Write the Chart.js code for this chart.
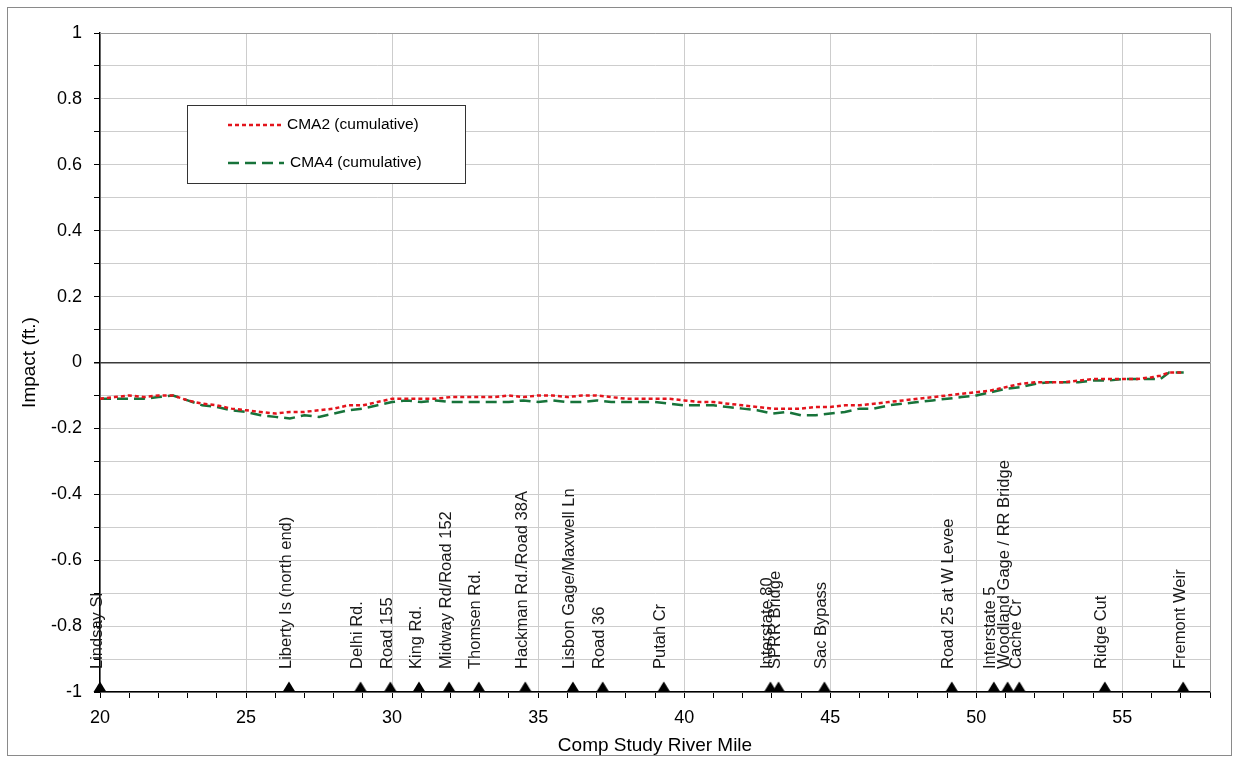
<!DOCTYPE html>
<html>
<head>
<meta charset="utf-8">
<script src="https://cdn.jsdelivr.net/npm/chart.js@4.4.1/dist/chart.umd.min.js"></script>
<style>
  html, body { margin: 0; padding: 0; background: #fff; }
  #wrap { position: relative; width: 1241px; height: 761px; }
  #frame { position: absolute; left: 7px; top: 7px; width: 1225px; height: 749px; border: 1px solid #8a8a8a; box-sizing: border-box; pointer-events: none; }
  canvas { position: absolute; left: 0; top: 0; }
</style>
</head>
<body>
<div id="wrap">
  <canvas id="impactChart" width="1241" height="761"></canvas>
  <div id="frame"></div>
</div>
<script>
// river mile of each cross-section
const riverMile = [
  20.0, 20.5, 21.0, 21.5, 22.0, 22.5, 23.0, 23.5, 24.0, 24.5,
  25.0, 25.5, 26.0, 26.5, 27.0, 27.5, 28.0, 28.5, 29.0, 29.5,
  30.0, 30.5, 31.0, 31.5, 32.0, 32.5, 33.0, 33.5, 34.0, 34.5,
  35.0, 35.5, 36.0, 36.5, 37.0, 37.5, 38.0, 38.5, 39.0, 39.5,
  40.0, 40.5, 41.0, 41.5, 42.0, 42.5, 43.0, 43.5, 44.0, 44.5,
  45.0, 45.5, 46.0, 46.5, 47.0, 47.5, 48.0, 48.5, 49.0, 49.5,
  50.0, 50.5, 51.0, 51.5, 52.0, 52.5, 53.0, 53.5, 54.0, 54.5,
  55.0, 55.5, 56.0, 56.3, 56.6, 57.1
];

const cma2 = [
  -0.11, -0.105, -0.10, -0.105, -0.10, -0.10, -0.115, -0.125, -0.13, -0.14,
  -0.145, -0.15, -0.155, -0.15, -0.15, -0.145, -0.14, -0.13, -0.13, -0.12,
  -0.11, -0.11, -0.11, -0.11, -0.105, -0.105, -0.105, -0.105, -0.10, -0.105,
  -0.10, -0.10, -0.105, -0.10, -0.10, -0.105, -0.11, -0.11, -0.11, -0.11,
  -0.115, -0.12, -0.12, -0.125, -0.13, -0.135, -0.14, -0.14, -0.14, -0.135,
  -0.135, -0.13, -0.13, -0.125, -0.12, -0.115, -0.11, -0.105, -0.10, -0.095,
  -0.09, -0.085, -0.075, -0.065, -0.06, -0.06, -0.06, -0.055, -0.05, -0.05,
  -0.05, -0.05, -0.045, -0.04, -0.03, -0.03
];

const cma4 = [
  -0.11, -0.11, -0.11, -0.11, -0.105, -0.10, -0.115, -0.13, -0.135, -0.145,
  -0.15, -0.16, -0.165, -0.17, -0.16, -0.165, -0.155, -0.145, -0.14, -0.13,
  -0.12, -0.115, -0.12, -0.115, -0.12, -0.12, -0.12, -0.12, -0.12, -0.115,
  -0.12, -0.115, -0.12, -0.12, -0.115, -0.12, -0.12, -0.12, -0.12, -0.125,
  -0.13, -0.13, -0.13, -0.135, -0.14, -0.145, -0.155, -0.15, -0.16, -0.16,
  -0.155, -0.15, -0.14, -0.14, -0.13, -0.125, -0.12, -0.115, -0.11, -0.105,
  -0.10, -0.09, -0.08, -0.075, -0.065, -0.06, -0.06, -0.06, -0.055, -0.055,
  -0.05, -0.05, -0.05, -0.05, -0.03, -0.03
];

// landmarks shown as triangles along the bottom axis
const landmarkMile = [
  20.0, 26.47, 28.92, 29.94, 30.92, 31.95, 32.97, 34.56, 36.19, 37.21,
  39.3, 42.95, 43.23, 44.8, 49.16, 50.6, 51.07, 51.47, 54.4, 57.08
];
const landmarkName = [
  "Lindsay Sl", "Liberty Is (north end)", "Delhi Rd.", "Road 155", "King Rd.",
  "Midway Rd/Road 152", "Thomsen Rd.", "Hackman Rd./Road 38A", "Lisbon Gage/Maxwell Ln", "Road 36",
  "Putah Cr", "Interstate 80", "SPRR Bridge", "Sac Bypass", "Road 25 at W Levee",
  "Interstate 5", "Woodland Gage / RR Bridge", "Cache Cr", "Ridge Cut", "Fremont Weir"
];

const seriesNames = ["CMA2 (cumulative)", "CMA4 (cumulative)"];

const FONT = "'Liberation Sans', Arial, sans-serif";
Chart.defaults.font.family = FONT;
Chart.defaults.color = "#000";

// triangle sitting on top of the point (image is centred on the point)
function makeTriangle() {
  const c = document.createElement("canvas");
  c.width = 14;
  c.height = 22;
  const g = c.getContext("2d");
  g.fillStyle = "#000";
  g.beginPath();
  g.moveTo(7, 0.5);
  g.lineTo(13.5, 11);
  g.lineTo(0.5, 11);
  g.closePath();
  g.fill();
  return c;
}

const redStyle = { color: "#e3141c", dash: [4, 3], width: 2.5 };
const greenStyle = { color: "#17733a", dash: [11, 6], width: 2.5 };

const landmarkLabels = {
  id: "landmarkLabels",
  afterDatasetsDraw(chart) {
    const ctx = chart.ctx;
    const xs = chart.scales.x;
    const ys = chart.scales.y;
    ctx.save();
    ctx.font = "16.5px " + FONT;
    ctx.fillStyle = "#1a1a1a";
    ctx.textAlign = "left";
    ctx.textBaseline = "middle";
    landmarkMile.forEach((m, i) => {
      const px = xs.getPixelForValue(m) - 3;
      const py = ys.getPixelForValue(-1) - 23;
      ctx.save();
      ctx.translate(px, py);
      ctx.rotate(-Math.PI / 2);
      ctx.fillText(landmarkName[i], 0, 0);
      ctx.restore();
    });
    ctx.restore();
  },
};

const frameAndLegend = {
  id: "frameAndLegend",
  afterDraw(chart) {
    const ctx = chart.ctx;
    const a = chart.chartArea;
    ctx.save();
    // plot area top / right edges
    ctx.strokeStyle = "#9a9a9a";
    ctx.lineWidth = 1;
    ctx.beginPath();
    ctx.moveTo(a.left, a.top + 0.5);
    ctx.lineTo(a.right + 0.5, a.top + 0.5);
    ctx.lineTo(a.right + 0.5, a.bottom);
    ctx.stroke();

    // legend box
    ctx.fillStyle = "#fff";
    ctx.fillRect(187, 105, 278, 78);
    ctx.strokeStyle = "#333";
    ctx.strokeRect(187.5, 105.5, 278, 78);

    const rows = [
      { y: 125, s: redStyle, text: seriesNames[0], tx: 287 },
      { y: 163, s: greenStyle, text: seriesNames[1], tx: 290 },
    ];
    rows.forEach((r) => {
      ctx.strokeStyle = r.s.color;
      ctx.lineWidth = r.s.width;
      ctx.setLineDash(r.s.dash);
      ctx.beginPath();
      ctx.moveTo(228, r.y);
      ctx.lineTo(284, r.y);
      ctx.stroke();
      ctx.setLineDash([]);
      ctx.fillStyle = "#000";
      ctx.font = "15.5px " + FONT;
      ctx.textBaseline = "middle";
      ctx.textAlign = "left";
      ctx.fillText(r.text, r.tx, r.y);
    });
    ctx.restore();
  },
};

new Chart(document.getElementById("impactChart"), {
  type: "line",
  data: {
    datasets: [
      {
        label: seriesNames[0],
        data: riverMile.map((m, i) => ({ x: m, y: cma2[i] })),
        borderColor: redStyle.color,
        borderDash: redStyle.dash,
        borderWidth: redStyle.width,
        pointRadius: 0,
        tension: 0,
      },
      {
        label: seriesNames[1],
        data: riverMile.map((m, i) => ({ x: m, y: cma4[i] })),
        borderColor: greenStyle.color,
        borderDash: greenStyle.dash,
        borderWidth: greenStyle.width,
        pointRadius: 0,
        tension: 0,
      },
      {
        label: "Landmarks",
        data: landmarkMile.map((m) => ({ x: m, y: -1 })),
        showLine: false,
        pointStyle: makeTriangle(),
        pointRadius: 7,
        clip: false,
      },
    ],
  },
  options: {
    responsive: false,
    animation: false,
    layout: { padding: { top: 33, right: 31, left: 0, bottom: 0 } },
    plugins: {
      legend: { display: false },
      tooltip: { enabled: false },
    },
    scales: {
      x: {
        type: "linear",
        min: 20,
        max: 58,
        afterFit(scale) { scale.height = 69; },
        ticks: {
          stepSize: 1,
          autoSkip: false,
          maxRotation: 0,
          padding: 9,
          font: { size: 18 },
          color: "#000",
          callback: (v) => (v % 5 === 0 && v < 58 ? String(v) : ""),
        },
        grid: {
          color: (c) => (c.tick && c.tick.value % 5 === 0 ? "#cdcdcd" : "rgba(0,0,0,0)"),
          tickColor: "#000",
          tickLength: 6,
        },
        border: { color: "#000", width: 1.5 },
        title: {
          display: true,
          text: "Comp Study River Mile",
          font: { size: 19 },
          color: "#000",
          padding: { top: 0, bottom: 4 },
        },
      },
      y: {
        min: -1,
        max: 1,
        afterFit(scale) { scale.width = 100; },
        ticks: {
          stepSize: 0.1,
          autoSkip: false,
          padding: 12,
          font: { size: 18 },
          color: "#000",
          callback: (v) => {
            const r = Math.round(v * 10);
            return r % 2 === 0 ? String(r / 10) : "";
          },
        },
        grid: {
          color: (c) => (c.tick && Math.round(c.tick.value * 10) === 0 ? "#3a3a3a" : "#cdcdcd"),
          lineWidth: (c) => (c.tick && Math.round(c.tick.value * 10) === 0 ? 1.5 : 1),
          tickColor: "#000",
          tickLength: 6,
        },
        border: { color: "#000", width: 1.5 },
        title: {
          display: true,
          text: "Impact (ft.)",
          font: { size: 19 },
          color: "#000",
          padding: { top: 18, bottom: 0 },
        },
      },
    },
  },
  plugins: [landmarkLabels, frameAndLegend],
});
</script>
</body>
</html>
